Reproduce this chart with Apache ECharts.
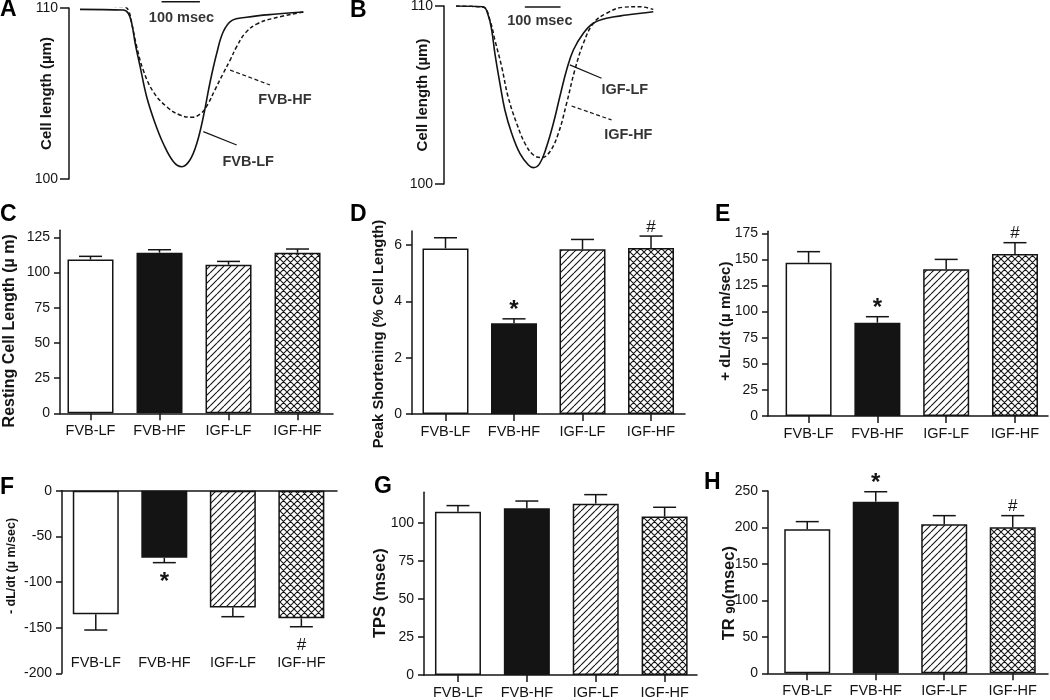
<!DOCTYPE html>
<html><head><meta charset="utf-8">
<script src="https://cdn.jsdelivr.net/npm/echarts@6/dist/echarts.min.js"></script>
<style>html,body{margin:0;padding:0;background:#fff}#c{width:1050px;height:700px}</style>
</head><body><div id="c"></div>
<script>
// ---------------- DATA ----------------
const categories = ['FVB-LF', 'FVB-HF', 'IGF-LF', 'IGF-HF'];

// Panel A: representative cell-length traces (time in msec, length in µm)
const fvbLF_t = [0,113,126,135,144,157,174,196,217,244,266,287,305,322,339,357,374,396,435,514,583];
const fvbLF_v = [109.92,109.88,109.69,109.11,107.94,106.57,104.81,103.26,102.09,101.01,100.72,101.11,102.09,103.64,105.60,107.35,108.61,109.26,109.46,109.65,109.77];
const fvbHF_t = [0,113,126,135,148,165,191,226,261,292,318,335,352,374,392,409,431,461,505,583];
const fvbHF_v = [110.12,110.08,109.88,109.11,107.74,106.37,105.11,104.23,103.74,103.61,103.88,104.43,105.20,106.18,106.96,107.74,108.52,109.06,109.40,109.77];

// Panel B traces
const igfLF_t = [0,76,90,100,109,123,137,156,179,203,217,235,254,273,291,310,329,357,385,422,478,553];
const igfLF_v = [110.0,109.96,109.49,108.65,107.34,105.66,104.16,102.85,101.72,101.07,100.92,101.16,102.10,103.41,104.90,106.40,107.53,108.47,109.03,109.31,109.49,109.68];
const igfHF_t = [0,76,95,109,128,146,170,193,217,240,263,287,310,333,357,385,422,469,515,553];
const igfHF_v = [110.0,109.93,109.21,108.09,106.59,104.90,103.41,102.29,101.63,101.48,101.81,102.85,104.53,106.40,107.90,109.03,109.59,109.93,109.96,109.81];

// Bar panels: means and (one-sided) SEM
const restingLength = [109.2, 114.1, 105.6, 114.1];
const restingLengthErr = [2.3, 2.1, 2.3, 2.6];
const peakShortening = [5.88, 3.22, 5.85, 5.90];
const peakShorteningErr = [0.38, 0.16, 0.35, 0.42];
const plusDLdt = [146.8, 89.4, 140.5, 155.2];
const plusDLdtErr = [10.6, 5.7, 9.5, 10.8];
const minusDLdt = [-135.4, -73.4, -128.0, -139.8];
const minusDLdtErr = [17.2, 5.4, 10.0, 9.2];
const tps = [107.2, 109.4, 112.5, 104.0];
const tpsErr = [4.0, 4.8, 5.9, 6.1];
const tr90 = [197.5, 235.4, 204.4, 200.3];
const tr90Err = [10.5, 13.6, 11.8, 15.9];

// significance marks
const noMarks = ['', '', '', ''];
const sigMarks = ['', '*', '', '#'];

// tick labels
const ticksC = [0, 25, 50, 75, 100, 125];
const ticksD = [0, 2, 4, 6];
const ticksE = [0, 25, 50, 75, 100, 125, 150, 175];
const ticksF = [-200, -150, -100, -50, 0];
const ticksG = [0, 25, 50, 75, 100];
const ticksH = [0, 50, 100, 150, 200, 250];

// annotations for trace panels: [t, v]
const scaleBarA = [[213, 110.37], [313, 110.37]];
const scaleBarB = [[193, 109.94], [293, 109.94]];
const leaderA_HF = [[392, 106.37], [496, 105.50]];
const leaderA_LF = [[322, 102.77], [409, 101.99]];
const leaderB_LF = [[319, 106.69], [408, 105.94]];
const leaderB_HF = [[324, 104.38], [436, 103.60]];
const textsA = [{t: 265, v: 109.4, s: '100 msec'}, {t: 535, v: 104.62, s: 'FVB-HF'}, {t: 439, v: 101.0, s: 'FVB-LF'}];
const textsB = [{t: 235, v: 109.17, s: '100 msec'}, {t: 473, v: 105.28, s: 'IGF-LF'}, {t: 483, v: 102.75, s: 'IGF-HF'}];

// ---------------- STYLE HELPERS ----------------
const FONT = 'Liberation Sans, Arial, Helvetica, sans-serif';
const INK = '#141414';

function makePattern(cross) {
  const p = 7;
  const c = document.createElement('canvas');
  c.width = p; c.height = p;
  const g = c.getContext('2d');
  g.fillStyle = '#fff'; g.fillRect(0, 0, p, p);
  g.strokeStyle = INK; g.lineWidth = 1.1;
  g.beginPath();
  for (let k = -1; k <= 1; k++) {
    g.moveTo(k * p, p); g.lineTo(k * p + p, 0);
    if (cross) { g.moveTo(k * p, 0); g.lineTo(k * p + p, p); }
  }
  g.stroke();
  return c;
}
const fills = ['#ffffff', INK, {image: makePattern(false), repeat: 'repeat'}, {image: makePattern(true), repeat: 'repeat'}];

const axisLineStyle = {show: true, onZero: false, lineStyle: {color: INK, width: 1.5}};
const labelStyle = {color: INK, fontSize: 14, fontFamily: FONT};

const grids = [
  {left: 80, top: 8, width: 226, height: 171},       // A
  {left: 456, top: 6, width: 198, height: 178},      // B
  {left: 60, top: 230.3, width: 273, height: 183},   // C
  {left: 412, top: 231, width: 273, height: 183},    // D
  {left: 768, top: 231.2, width: 280, height: 184.8},// E
  {left: 62, top: 490.7, width: 275, height: 182.6}, // F
  {left: 424, top: 492.2, width: 273, height: 182.8},// G
  {left: 768, top: 491, width: 280, height: 182.3}   // H
].map(g => Object.assign({outerBoundsMode: 'none', containLabel: false}, g));

const xAxes = [];
const yAxes = [];
const series = [];

// trace panels
function tracePanel(idx, tMax, offset, name, nameGap, solidT, solidV, dashT, dashV, bar, leaders, texts) {
  xAxes.push({gridIndex: idx, type: 'value', min: 0, max: tMax, show: false});
  yAxes.push({
    gridIndex: idx, type: 'value', min: 100, max: 110, interval: 10, offset: offset,
    axisLine: axisLineStyle, axisTick: {show: true, length: 9, lineStyle: {color: INK, width: 1.5}},
    axisLabel: Object.assign({margin: 11}, labelStyle), splitLine: {show: false},
    name: name, nameLocation: 'middle', nameRotate: 90, nameGap: nameGap, nameMoveOverlap: false,
    nameTextStyle: {fontSize: 15, fontWeight: 'bold', color: INK, fontFamily: FONT}
  });
  const xi = xAxes.length - 1, yi = yAxes.length - 1;
  series.push({type: 'line', xAxisIndex: xi, yAxisIndex: yi, data: solidT.map((t, i) => [t, solidV[i]]),
    symbol: 'none', smooth: 0.4, lineStyle: {color: INK, width: 1.6}, silent: true});
  series.push({type: 'line', xAxisIndex: xi, yAxisIndex: yi, data: dashT.map((t, i) => [t, dashV[i]]),
    symbol: 'none', smooth: 0.4, lineStyle: {color: INK, width: 1.5, type: [4, 2.5]}, silent: true});
  series.push({type: 'line', xAxisIndex: xi, yAxisIndex: yi, data: bar, symbol: 'none', clip: false,
    lineStyle: {color: INK, width: 1.5}, silent: true});
  leaders.forEach(l => series.push({type: 'line', xAxisIndex: xi, yAxisIndex: yi, data: l.pts, symbol: 'none', clip: false,
    lineStyle: {color: INK, width: 1.2, type: l.dash ? [4, 2.5] : 'solid'}, silent: true}));
  series.push({type: 'scatter', xAxisIndex: xi, yAxisIndex: yi, symbolSize: 0, clip: false, silent: true,
    data: texts.map(o => ({value: [o.t, o.v], name: o.s})),
    label: {show: true, position: 'inside', formatter: '{b}', color: '#000', textBorderWidth: 0,
      fontWeight: 'bold', fontSize: 14.5, fontFamily: FONT}});
}

tracePanel(0, 590, 11, 'Cell length (µm)', 15, fvbLF_t, fvbLF_v, fvbHF_t, fvbHF_v, scaleBarA,
  [{pts: leaderA_HF, dash: true}, {pts: leaderA_LF, dash: false}], textsA);
tracePanel(1, 555, 12, 'Cell length (µm)', 14, igfLF_t, igfLF_v, igfHF_t, igfHF_v, scaleBarB,
  [{pts: leaderB_LF, dash: false}, {pts: leaderB_HF, dash: true}], textsB);

// bar panels
function barPanel(idx, xr, yr, ticks, name, nameOpts, vals, errs, marks, zeroTop) {
  const xi = xAxes.length, yi = yAxes.length;
  xAxes.push({
    gridIndex: idx, type: 'value', min: xr[0], max: xr[1], position: zeroTop ? 'top' : 'bottom',
    axisLine: axisLineStyle,
    axisTick: zeroTop ? {show: false} : {show: true, length: 7, customValues: [0, 1, 2, 3], lineStyle: {color: INK, width: 1.5}},
    axisLabel: zeroTop ? {show: false} : Object.assign({margin: 10, customValues: [0, 1, 2, 3], formatter: v => categories[Math.round(v)]}, labelStyle, {fontSize: 14.5}),
    splitLine: {show: false}
  });
  if (zeroTop) {
    xAxes.push({
      gridIndex: idx, type: 'value', min: xr[0], max: xr[1], position: 'bottom',
      axisLine: {show: false, onZero: false}, axisTick: {show: false},
      axisLabel: Object.assign({margin: -18, customValues: [0, 1, 2, 3], formatter: v => categories[Math.round(v)]}, labelStyle, {fontSize: 14.5}),
      splitLine: {show: false}
    });
  }
  yAxes.push({
    gridIndex: idx, type: 'value', min: yr[0], max: yr[1],
    axisLine: axisLineStyle,
    axisTick: {show: true, length: 6, customValues: ticks, lineStyle: {color: INK, width: 1.5}},
    axisLabel: Object.assign({margin: 10, customValues: ticks}, labelStyle),
    splitLine: {show: false},
    name: name, nameLocation: 'middle', nameRotate: 90, nameGap: nameOpts.gap, nameMoveOverlap: false,
    nameTextStyle: Object.assign({fontSize: nameOpts.size, fontWeight: 'bold', color: INK, fontFamily: FONT, padding: nameOpts.pad || 0}, nameOpts.rich ? {rich: nameOpts.rich} : {})
  });
  series.push({
    type: 'bar', xAxisIndex: xi, yAxisIndex: yi, barWidth: 46, silent: true,
    data: vals.map((v, i) => ({value: [i, v], itemStyle: {color: fills[i]}})),
    itemStyle: {borderColor: INK, borderWidth: 1.5}
  });
  series.push({
    type: 'custom', xAxisIndex: xi, yAxisIndex: yi, silent: true,
    data: vals.map((v, i) => [i, v, errs[i]]),
    renderItem: function (params, api) {
      const i = api.value(0), v = api.value(1), e = api.value(2);
      const s = v < 0 ? -1 : 1;
      const p0 = api.coord([i, v]);
      const p1 = api.coord([i, v + s * e]);
      const half = 11.5;
      const st = {stroke: INK, lineWidth: 1.5};
      const children = [
        {type: 'line', shape: {x1: p0[0], y1: p0[1], x2: p1[0], y2: p1[1]}, style: st},
        {type: 'line', shape: {x1: p1[0] - half, y1: p1[1], x2: p1[0] + half, y2: p1[1]}, style: st}
      ];
      const m = marks[params.dataIndex];
      if (m) {
        const star = m === '*';
        const dy = s > 0 ? (star ? -8 : -9) : (star ? 20 : 19);
        children.push({type: 'text', style: {
          text: m, x: p1[0], y: p1[1] + dy, fill: INK,
          fontSize: star ? 24 : 17, fontWeight: star ? 'bold' : 'normal', fontFamily: FONT,
          align: 'center', verticalAlign: 'middle'}});
      }
      return {type: 'group', children: children};
    }
  });
}

barPanel(2, [-0.442, 3.514], [0, 130], ticksC, 'Resting Cell Length (µ m)', {gap: 42, size: 16, pad: [0, 18, 0, 0]},
  restingLength, restingLengthErr, noMarks, false);
barPanel(3, [-0.489, 3.496], [0, 6.5], ticksD, 'Peak Shortening (% Cell Length)', {gap: 26, size: 14.8, pad: [0, 23, 0, 0]},
  peakShortening, peakShorteningErr, sigMarks, false);
barPanel(4, [-0.59, 3.48], [0, 177], ticksE, '+ dL/dt (µ m/sec)', {gap: 35, size: 15, pad: [0, 0, 0, 5]},
  plusDLdt, plusDLdtErr, sigMarks, false);
barPanel(5, [-0.493, 3.52], [-200, 0], ticksF, '- dL/dt (µ m/sec)', {gap: 44, size: 12.5, pad: [0, 0, 0, 32]},
  minusDLdt, minusDLdtErr, sigMarks, true);
barPanel(6, [-0.493, 3.47], [0, 120], ticksG, 'TPS (msec)', {gap: 35, size: 16.5, pad: [0, 19, 0, 0]},
  tps, tpsErr, noMarks, false);
barPanel(7, [-0.573, 3.515], [0, 250], ticksH, 'TR {sub|90}(msec)', {gap: 30, size: 16.5, pad: [0, 22, 0, 0],
  rich: {sub: {fontSize: 13, fontWeight: 'bold', color: INK, fontFamily: FONT, verticalAlign: 'bottom', padding: [5, 0, 0, 0]}}},
  tr90, tr90Err, sigMarks, false);

// panel letters
const letters = [['A', 0, 10], ['B', 350, 11], ['C', 0, 215], ['D', 350, 215], ['E', 715, 215], ['F', 0, 488], ['G', 374, 487], ['H', 704, 483]];
const graphic = letters.map(l => ({type: 'text', x: l[1], y: l[2], silent: true,
  style: {text: l[0], fill: '#000', fontSize: 23, fontWeight: 'bold', fontFamily: FONT, align: 'left', verticalAlign: 'middle'}}));

const chart = echarts.init(document.getElementById('c'), null, {renderer: 'canvas'});
chart.setOption({
  animation: false,
  backgroundColor: '#fff',
  grid: grids,
  xAxis: xAxes,
  yAxis: yAxes,
  series: series,
  graphic: graphic
});
</script>
</body></html>
